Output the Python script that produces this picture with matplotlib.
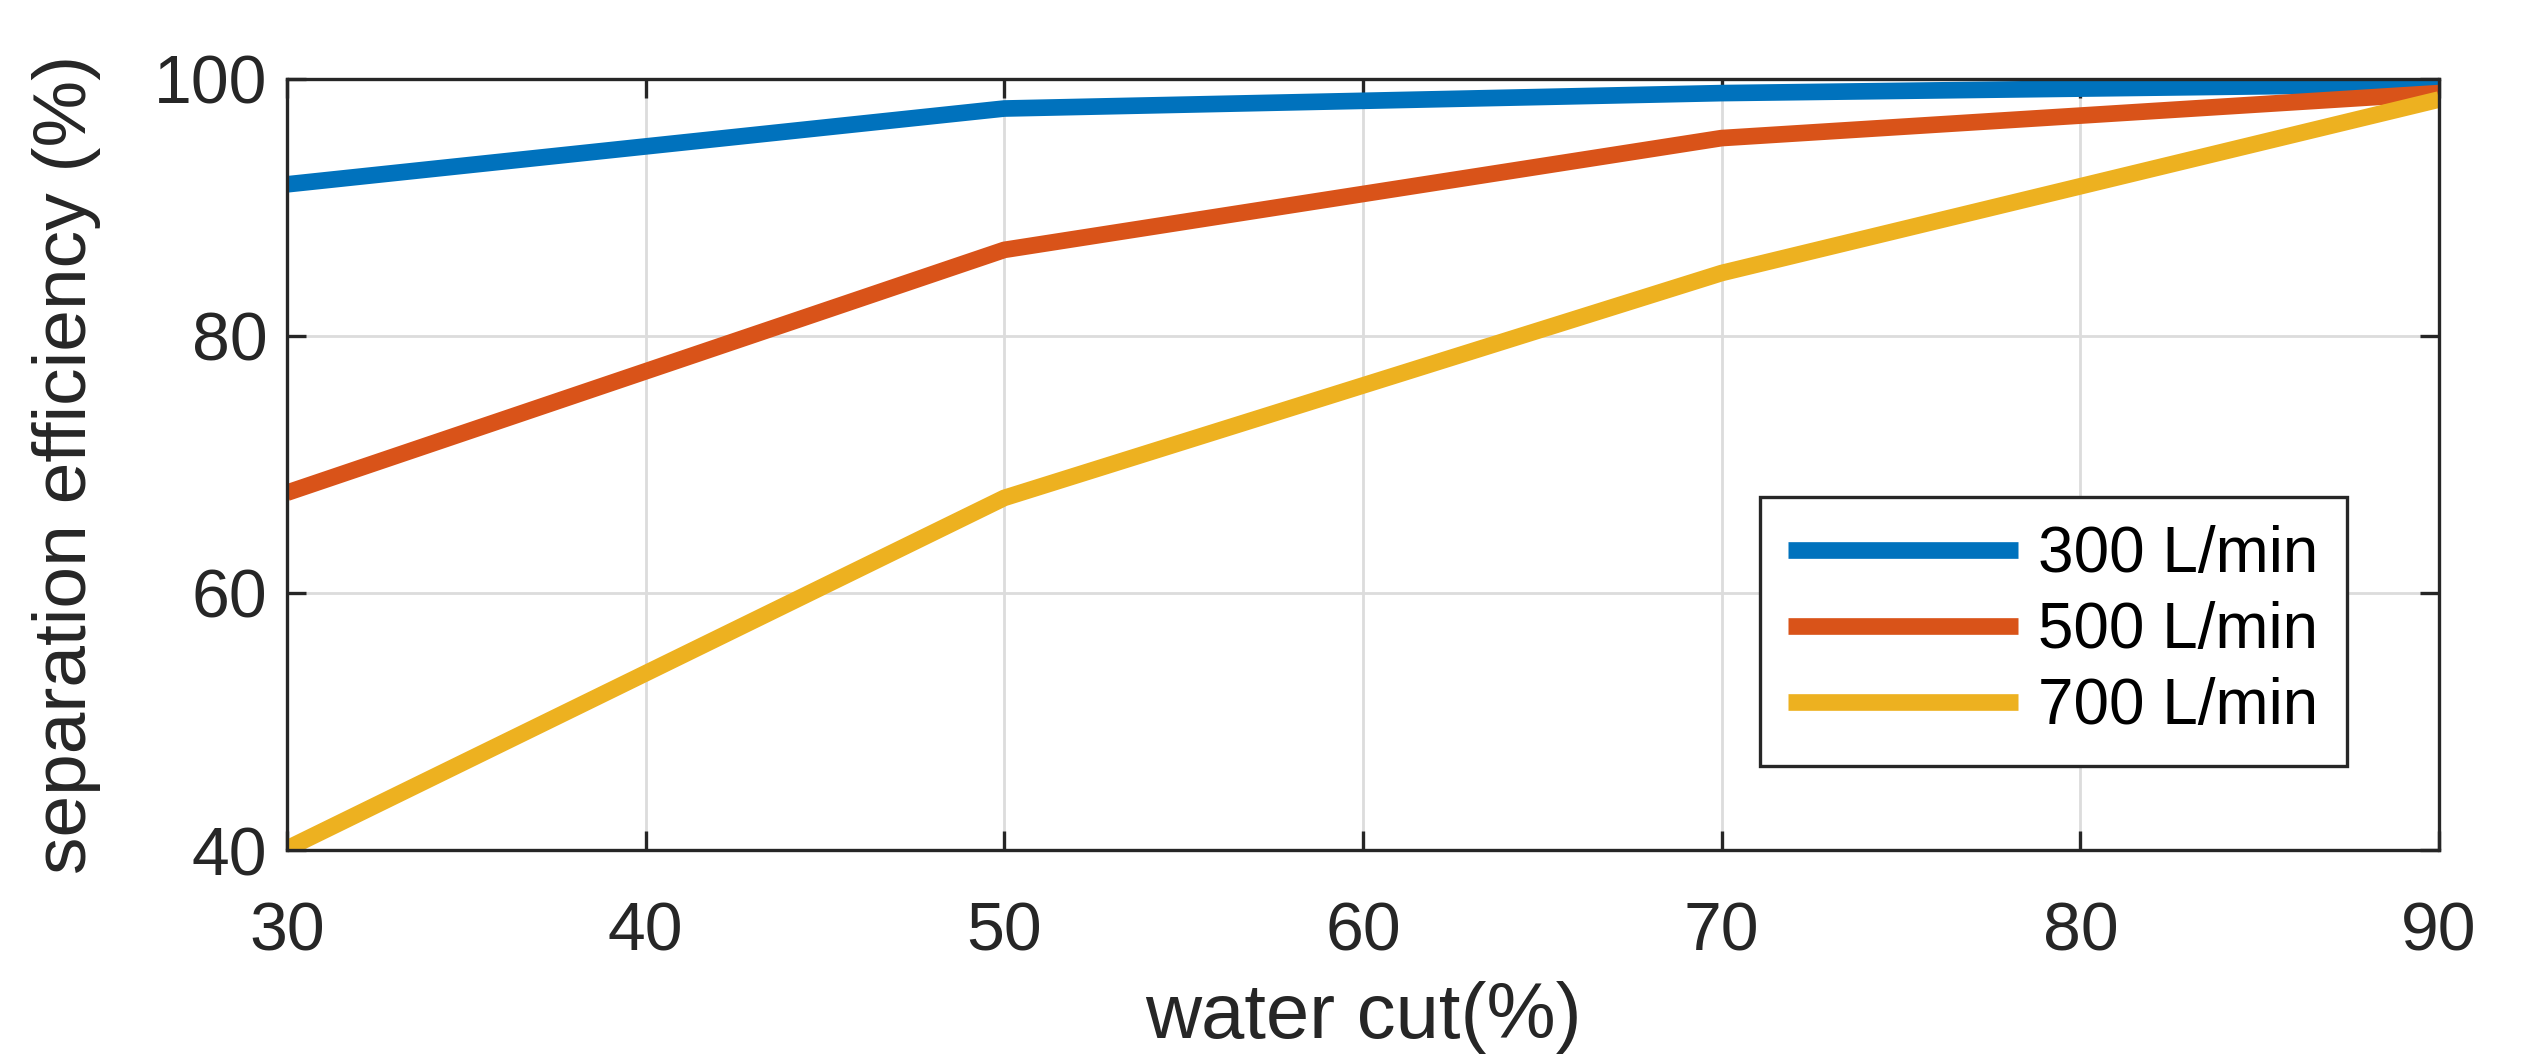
import matplotlib
matplotlib.use("Agg")
import matplotlib.pyplot as plt

# data
water_cut = [30, 50, 70, 90]
eff_300 = [91.8, 97.7, 98.9, 99.6]
eff_500 = [67.8, 86.7, 95.4, 98.9]
eff_700 = [40.1, 67.4, 84.9, 98.4]
labels = ["300 L/min", "500 L/min", "700 L/min"]
colors = ["#0072BD", "#D95319", "#EDB120"]

plt.rcParams["font.family"] = ["Liberation Sans", "DejaVu Sans"]
axis_color = "#262626"

fig = plt.figure(figsize=(12.66, 5.3), dpi=200)
ax = fig.add_axes([0.1133, 0.1981, 0.85, 0.7274])

for y, lab, c in zip([eff_300, eff_500, eff_700], labels, colors):
    ax.plot(water_cut, y, color=c, lw=6, label=lab, solid_capstyle="butt")

ax.set_xlim(30, 90)
ax.set_ylim(40, 100)
ax.set_xticks(range(30, 91, 10))
ax.set_yticks(range(40, 101, 20))
ax.grid(True, color="#dcdcdc", lw=1.0)
ax.set_axisbelow(True)

ax.tick_params(direction="in", length=7, width=1.2, top=True, right=True,
               labelsize=24.5, colors=axis_color)
ax.tick_params(axis="x", pad=18)
ax.tick_params(axis="y", pad=7)
for s in ax.spines.values():
    s.set_color(axis_color)
    s.set_linewidth(1.2)

ax.set_xlabel("water cut(%)", fontsize=28, color=axis_color, labelpad=6)
ax.set_ylabel("separation efficiency (%)", fontsize=27, color=axis_color, labelpad=19)

leg = ax.legend(loc="lower right", bbox_to_anchor=(0.957, 0.109), fontsize=23,
                handlelength=3.6, handletextpad=0.3, borderpad=0.45,
                labelspacing=0.25, borderaxespad=0, fancybox=False, framealpha=1)
leg.get_frame().set_edgecolor(axis_color)
leg.get_frame().set_linewidth(1.2)

fig.savefig("out.png", dpi=200)
